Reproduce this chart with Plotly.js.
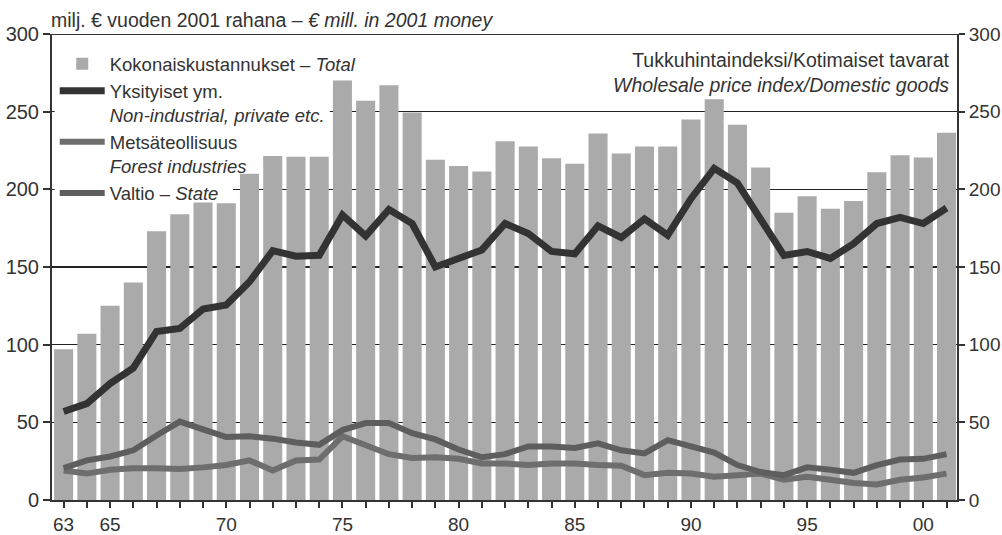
<!DOCTYPE html>
<html><head><meta charset="utf-8">
<script src="https://cdn.plot.ly/plotly-3.0.1.min.js"></script>
<style>html,body{margin:0;padding:0;background:#fff;}#chart{width:1002px;height:535px;}</style>
</head><body><div id="chart"></div>
<script>
const years = [1963,1964,1965,1966,1967,1968,1969,1970,1971,1972,1973,1974,1975,1976,1977,1978,1979,1980,1981,1982,1983,1984,1985,1986,1987,1988,1989,1990,1991,1992,1993,1994,1995,1996,1997,1998,1999,2000,2001];
const totalCosts = [97,107,125,140,173,184,191.5,191,210,221.5,221,221,270,257,267,249.5,219,215,211.5,231,227.5,220,216.5,236,223,227.5,227.5,245,258,241.5,214,185,195.5,187.5,192.5,211,222,220.5,236.5];
const privateCosts = [57,62,75,85,108.5,110.5,123,125.5,140.5,160.5,157,157.5,183.5,170,187,178,150,155.5,161,178,171.5,160,158.5,176.5,169,181,170.5,194,213.5,204,180,157.5,160,155.5,165,178,182,178,188];
const forestIndustryCosts = [19,17,19.5,20.5,20.5,20,21,22.5,25.5,19,25.5,26,41,35.5,29.5,27,27.5,26.5,23.5,23.5,22.5,23.5,23.5,22.5,22,16,17.5,17,15,16,17,13,15,13,11,10,13,14.5,17];
const stateCosts = [20.5,25.5,28,32,41.5,50.5,45.5,40.5,41,39.5,37,35.5,45,49.5,49.5,43,39,32.5,27.5,29.5,34.5,34.5,33.5,36.5,32,30,38.5,34.5,30.5,22.5,18,16,21,19.5,17.5,22.5,26,26.5,29.5];
const tickYears = [1963,1965,1970,1975,1980,1985,1990,1995,2000];
const tickLabels = ["63","65","70","75","80","85","90","95","00"];

const FONT = "Liberation Sans, Arial, sans-serif";
const TXT = "#333333";

const traces = [
  {type:'bar', x:years, y:totalCosts, name:'Kokonaiskustannukset – <i>Total</i>',
   marker:{color:'#aaaaaa', line:{width:0}}, hoverinfo:'skip'},
  {type:'scatter', mode:'lines', x:years, y:privateCosts, name:'Yksityiset ym.<br><i>Non-industrial, private etc.</i>',
   line:{color:'#333333', width:7}, hoverinfo:'skip'},
  {type:'scatter', mode:'lines', x:years, y:forestIndustryCosts, name:'Metsäteollisuus<br><i>Forest industries</i>',
   line:{color:'#6e6e6e', width:6}, hoverinfo:'skip'},
  {type:'scatter', mode:'lines', x:years, y:stateCosts, name:'Valtio – <i>State</i>',
   line:{color:'#5e5e5e', width:6}, hoverinfo:'skip'},
  {type:'scatter', mode:'lines', x:years, y:totalCosts, yaxis:'y2', showlegend:false,
   line:{width:0, color:'rgba(0,0,0,0)'}, opacity:0, hoverinfo:'skip'}
];

const ticktext = years.map(y => { const i = tickYears.indexOf(y); return i >= 0 ? tickLabels[i] : ''; });

const layout = {
  width:1002, height:535,
  margin:{l:52, r:45, t:34, b:35},
  paper_bgcolor:'#ffffff', plot_bgcolor:'#ffffff',
  font:{family:FONT, size:19.5, color:TXT},
  bargap:0.18,
  showlegend:true,
  legend:{x:0.003, y:0.976, xanchor:'left', yanchor:'top', bgcolor:'rgba(0,0,0,0)', borderwidth:0,
          font:{family:FONT, size:18.5, color:TXT}, valign:'top', itemwidth:45, tracegroupgap:0},
  xaxis:{range:[1962.5, 2001.45], tickvals:years, ticktext:ticktext, ticks:'outside', ticklen:6, tickwidth:2,
         tickcolor:'#333', showline:true, linecolor:'#333', linewidth:2, showgrid:false, zeroline:false,
         tickfont:{family:FONT, size:19, color:TXT}, fixedrange:true},
  yaxis:{range:[0,300], tickvals:[0,50,100,150,200,250,300], ticks:'outside', ticklen:7, tickwidth:2, tickcolor:'#333',
         showline:true, linecolor:'#333', linewidth:2, showgrid:true, gridcolor:'#222', gridwidth:1.5, zeroline:false,
         tickfont:{family:FONT, size:20, color:TXT}, fixedrange:true},
  yaxis2:{range:[0,300], overlaying:'y', side:'right', anchor:'x', tickvals:[0,50,100,150,200,250,300], ticks:'outside', ticklen:6, tickwidth:2,
          tickcolor:'#333', showline:true, linecolor:'#333', linewidth:2, showgrid:false, zeroline:false,
          tickfont:{family:FONT, size:19, color:TXT}, fixedrange:true},
  shapes:[
    {type:'line', xref:'paper', yref:'y', x0:0, x1:1, y0:300, y1:300, line:{color:'#333', width:2}, layer:'above'},
    {type:'rect', xref:'paper', yref:'y', x0:0.003, x1:0.307, y0:245, y1:256, fillcolor:'#ffffff', line:{width:0}, layer:'above'},
    {type:'rect', xref:'paper', yref:'y', x0:0.003, x1:0.2, y0:195, y1:205, fillcolor:'#ffffff', line:{width:0}, layer:'above'}
  ],
  annotations:[
    {xref:'paper', yref:'paper', x:-0.003, y:1, xanchor:'left', yanchor:'bottom', yshift:1, showarrow:false,
     text:'milj. € vuoden 2001 rahana – <i>€ mill. in 2001 money</i>', font:{family:FONT, size:19.5, color:TXT}},
    {xref:'paper', yref:'paper', x:0.995, y:0.972, xanchor:'right', yanchor:'top', align:'right', showarrow:false,
     text:'Tukkuhintaindeksi/Kotimaiset tavarat<br><i>Wholesale price index/Domestic goods</i>',
     font:{family:FONT, size:19.5, color:TXT}}
  ]
};

Plotly.newPlot('chart', traces, layout, {staticPlot:true, displayModeBar:false});
</script>
</body></html>
